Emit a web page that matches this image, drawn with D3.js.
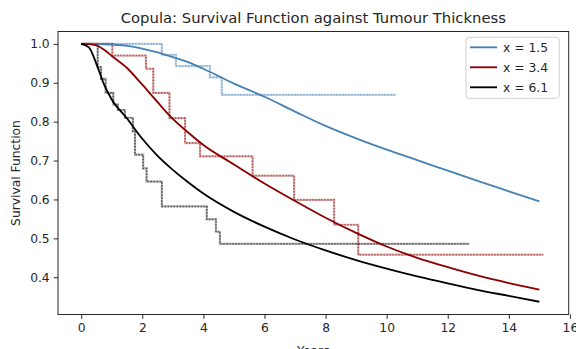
<!DOCTYPE html>
<html><head><meta charset="utf-8">
<script src="https://cdn.jsdelivr.net/npm/d3@7/dist/d3.min.js"></script>
<style>body{margin:0;background:#fff}svg{display:block;font-family:"DejaVu Sans",sans-serif}</style>
</head><body><svg id="c" width="576" height="349"></svg>
<script>
const title = "Copula: Survival Function against Tumour Thickness";
const xLabel = "Years", yLabel = "Survival Function";
const xTicks = [0,2,4,6,8,10,12,14,16];
const yTicks = [0.4,0.5,0.6,0.7,0.8,0.9,1.0];
const seriesNames = ["x = 1.5","x = 3.4","x = 6.1"];
const seriesColors = ["#4682b4","#8b0000","#000000"];
// smooth copula survival curves
const curveTimes = [0,0.25,0.5,0.75,1,1.5,2,2.5,3,3.5,4,5,6,7,8,9,10,11,12,13,14,15];
const curveBlue  = [1,1,0.9995,0.999,0.998,0.995,0.988,0.978,0.966,0.953,0.936,0.898,0.864,0.826,0.789,0.757,0.728,0.701,0.674,0.647,0.621,0.595];
const curveRed   = [1,0.9995,0.996,0.985,0.969,0.938,0.895,0.85,0.807,0.772,0.74,0.69,0.641,0.596,0.553,0.514,0.479,0.45,0.426,0.404,0.385,0.368];
const curveBlack = [1,0.991,0.948,0.895,0.857,0.808,0.756,0.712,0.676,0.644,0.615,0.568,0.53,0.497,0.469,0.444,0.422,0.402,0.384,0.367,0.352,0.337];
// Kaplan-Meier step estimates
const stepTimesBlue = [0,2.64,3.10,4.21,4.60,10.31];
const stepSurvBlue  = [1.0,0.972,0.943,0.914,0.869,0.869];
const stepTimesRed  = [0,1.02,2.12,2.36,2.89,3.40,3.89,5.61,6.97,8.28,9.07,15.13];
const stepSurvRed   = [1.0,0.970,0.936,0.874,0.809,0.745,0.711,0.661,0.599,0.535,0.458,0.458];
const stepTimesBlack= [0,0.54,0.65,0.80,1.05,1.20,1.43,1.69,1.76,2.03,2.14,2.64,4.11,4.41,4.54,12.71];
const stepSurvBlack = [1.0,0.94,0.91,0.874,0.844,0.83,0.81,0.775,0.715,0.680,0.646,0.582,0.549,0.517,0.486,0.486];

const L=58,R=568.7,T=31.5,B=314.5;
const svg=d3.select("#c");
const x=d3.scaleLinear().domain([-0.76,15.96]).range([L,R]);
const y=d3.scaleLinear().domain([0.3042,1.0318]).range([B,T]);
const textCol="#262626";

const curves=[curveBlue,curveRed,curveBlack];
const stepsT=[stepTimesBlue,stepTimesRed,stepTimesBlack];
const stepsS=[stepSurvBlue,stepSurvRed,stepSurvBlack];

const g=svg.append("g");
g.append("defs").append("clipPath").attr("id","clip").append("rect").attr("x",L).attr("y",T).attr("width",R-L).attr("height",B-T);
const pl=g.append("g").attr("clip-path","url(#clip)");
const stepLine=d3.line().x(d=>x(d[0])).y(d=>y(d[1])).curve(d3.curveStepAfter);
const smooth=d3.line().x(d=>x(d[0])).y(d=>y(d[1])).curve(d3.curveMonotoneX);
for(let i=0;i<3;i++){
  const pts=stepsT[i].map((t,j)=>[t,stepsS[i][j]]);
  pl.append("path").attr("d",stepLine(pts)).attr("fill","none").attr("stroke",seriesColors[i]).attr("stroke-opacity",0.3).attr("stroke-width",2.2);
  pl.append("path").attr("d",stepLine(pts)).attr("fill","none").attr("stroke",seriesColors[i]).attr("stroke-opacity",0.55).attr("stroke-width",1.6).attr("stroke-dasharray","1.4,1.6");
}
for(let i=0;i<3;i++){
  const pts=curveTimes.map((t,j)=>[t,curves[i][j]]);
  pl.append("path").attr("d",smooth(pts)).attr("fill","none").attr("stroke",seriesColors[i]).attr("stroke-width",1.85);
}
// axes
const xa=d3.axisBottom(x).tickValues(xTicks).tickSize(4.3).tickPadding(4).tickFormat(d3.format("d"));
const ya=d3.axisLeft(y).tickValues(yTicks).tickSize(4.3).tickPadding(4).tickFormat(d3.format(".1f"));
const gx=g.append("g").attr("transform",`translate(0,${B})`).call(xa);
const gy=g.append("g").attr("transform",`translate(${L},0)`).call(ya);
[gx,gy].forEach(a=>{a.select(".domain").remove();a.selectAll("line").attr("stroke",textCol).attr("stroke-width",1);
 a.selectAll("text").attr("fill",textCol).style("font-size","12.3px").style("font-family","DejaVu Sans");});
g.append("rect").attr("x",L).attr("y",T).attr("width",R-L).attr("height",B-T).attr("fill","none").attr("stroke",textCol).attr("stroke-width",1);
// labels
g.append("text").attr("x",(L+R)/2).attr("y",23).attr("text-anchor","middle").attr("fill",textCol).style("font-size","14.8px").text(title);
g.append("text").attr("x",(L+R)/2).attr("y",355).attr("text-anchor","middle").attr("fill",textCol).style("font-size","12.3px").text(xLabel);
g.append("text").attr("transform",`translate(20,${(T+B)/2}) rotate(-90)`).attr("text-anchor","middle").attr("fill",textCol).style("font-size","12.3px").text(yLabel);
// legend
const lg=g.append("g");
lg.append("rect").attr("x",466).attr("y",37.3).attr("width",93.3).attr("height",61).attr("rx",3).attr("fill","#fff").attr("fill-opacity",0.8).attr("stroke","#d0d0d0");
seriesNames.forEach((n,i)=>{
  const yy=47.3+i*20;
  lg.append("line").attr("x1",470).attr("x2",497).attr("y1",yy).attr("y2",yy).attr("stroke",seriesColors[i]).attr("stroke-width",1.85);
  lg.append("text").attr("x",503).attr("y",yy).attr("dy","0.36em").attr("fill",textCol).style("font-size","12.3px").text(n);
});
</script></body></html>
